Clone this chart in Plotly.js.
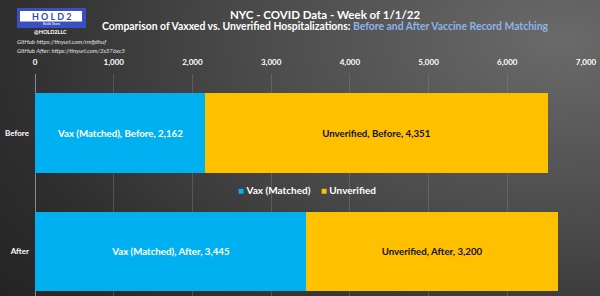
<!DOCTYPE html>
<html><head><meta charset="utf-8">
<script src="https://cdn.plot.ly/plotly-3.0.1.min.js"></script>
<style>
html,body{margin:0;padding:0;}
body{width:600px;height:296px;overflow:hidden;
background: radial-gradient(ellipse 700px 420px at 560px 40px, #6a6a6a 0%, #4a4a4a 45%, #2e2e2e 80%, #242424 100%);}
#chart{width:600px;height:296px;}
</style></head>
<body><div id="chart"></div>
<script>
const categories = ["After", "Before"];
const vaxValues = [3445, 2162];
const unverifiedValues = [3200, 4351];
const seriesNames = ["Vax (Matched)", "Unverified"];
const seriesColors = ["#00b0f0", "#ffc000"];
const tickValues = [0, 1000, 2000, 3000, 4000, 5000, 6000, 7000];

const FONT = "Lato, 'Open Sans', sans-serif";
const fmt = v => v.toLocaleString('en-US');
const labelsFor = (name, vals) => vals.map((v, i) => name + ', ' + categories[i] + ', ' + fmt(v));

const traces = [
  {type:'bar', orientation:'h', name:seriesNames[0], y:categories, x:vaxValues,
   marker:{color:seriesColors[0]}, text:labelsFor(seriesNames[0], vaxValues), texttemplate:'%{text}',
   textposition:'inside', insidetextanchor:'middle', constraintext:'none',
   textfont:{color:'#ffffff', size:9.7, family:FONT, weight:'bold'}, hoverinfo:'none'},
  {type:'bar', orientation:'h', name:seriesNames[1], y:categories, x:unverifiedValues,
   marker:{color:seriesColors[1]}, text:labelsFor(seriesNames[1], unverifiedValues), texttemplate:'%{text}',
   textposition:'inside', insidetextanchor:'middle', constraintext:'none',
   textfont:{color:'#111111', size:9.7, family:FONT, weight:'bold'}, hoverinfo:'none'}
];

// paper coordinate helpers (plot area: x 35..586 px, y 74..296 px)
const px = p => (p - 35) / 551;
const py = p => (296 - p) / 222;

const legendText = '<span style="color:' + seriesColors[0] + '">■</span>&nbsp;<b>' + seriesNames[0] + '</b>&nbsp;&nbsp;&nbsp;&nbsp;' +
                   '<span style="color:' + seriesColors[1] + '">■</span>&nbsp;<b>' + seriesNames[1] + '</b>';

const layout = {
  width:600, height:296,
  margin:{l:35, r:14, t:74, b:0},
  paper_bgcolor:'rgba(0,0,0,0)', plot_bgcolor:'rgba(0,0,0,0)',
  barmode:'stack', bargap:0.33,
  font:{family:FONT, color:'#ffffff'},
  showlegend:false,
  xaxis:{side:'top', range:[0,7000], tickvals:tickValues, tickformat:',',
         showgrid:true, gridcolor:'rgba(140,140,140,0.35)', gridwidth:1,
         zeroline:true, zerolinecolor:'#8a8a8a', zerolinewidth:1,
         tickfont:{size:8, color:'#ffffff', family:FONT, weight:'bold'}, ticks:'', ticklabelstandoff:6,
         fixedrange:true},
  yaxis:{type:'category', range:[-0.381, 1.5], showgrid:false, zeroline:false,
         tickfont:{size:8, color:'#ffffff', family:FONT, weight:'bold'}, ticks:'', ticklabelstandoff:5,
         fixedrange:true},
  annotations:[
    {xref:'paper', yref:'paper', x:px(325), y:py(14), xanchor:'center', yanchor:'middle', showarrow:false,
     text:'<b>NYC - COVID Data - Week of 1/1/22</b>', font:{size:11.5, color:'#ffffff', family:FONT}},
    {xref:'paper', yref:'paper', x:px(325), y:py(26), xanchor:'center', yanchor:'middle', showarrow:false,
     text:'<b>Comparison of Vaxxed vs. Unverified Hospitalizations: <span style="color:#8fb3e6">Before and After Vaccine Record Matching</span></b>',
     font:{size:10.4, color:'#ffffff', family:FONT}},
    {xref:'paper', yref:'paper', x:px(51), y:py(16), xanchor:'center', yanchor:'middle', showarrow:false,
     text:'<b>H O L D 2</b>', font:{size:9, color:'#3247b5', family:FONT}},
    {xref:'paper', yref:'paper', x:px(51), y:py(24.5), xanchor:'center', yanchor:'middle', showarrow:false,
     text:'Build Share', font:{size:3.5, color:'#ffffff', family:FONT}},
    {xref:'paper', yref:'paper', x:px(50), y:py(31.5), xanchor:'center', yanchor:'middle', showarrow:false,
     text:'<b>@HOLD2LLC</b>', font:{size:5.5, color:'#ffffff', family:FONT}},
    {xref:'paper', yref:'paper', x:px(15), y:py(42), xanchor:'left', yanchor:'middle', showarrow:false,
     text:'<i>GitHub https://tinyurl.com/rmfjdhuf</i>', font:{size:6, color:'#e0e0e0', family:FONT}},
    {xref:'paper', yref:'paper', x:px(15), y:py(50.5), xanchor:'left', yanchor:'middle', showarrow:false,
     text:'<i>GitHub After: https://tinyurl.com/2s376xc5</i>', font:{size:6, color:'#e0e0e0', family:FONT}},
    {xref:'paper', yref:'paper', x:px(307), y:py(190), xanchor:'center', yanchor:'middle', showarrow:false,
     text:legendText, font:{size:10, color:'#ffffff', family:FONT}}
  ],
  shapes:[
    {type:'rect', xref:'paper', yref:'paper', x0:px(17), x1:px(86), y0:py(28), y1:py(8),
     fillcolor:'#3a4fc4', line:{width:0}, layer:'below'},
    {type:'rect', xref:'paper', yref:'paper', x0:px(20), x1:px(82), y0:py(21.5), y1:py(11),
     fillcolor:'#ffffff', line:{width:0}, layer:'below'}
  ]
};

Plotly.newPlot('chart', traces, layout, {displayModeBar:false, staticPlot:true});
</script>
</body></html>
